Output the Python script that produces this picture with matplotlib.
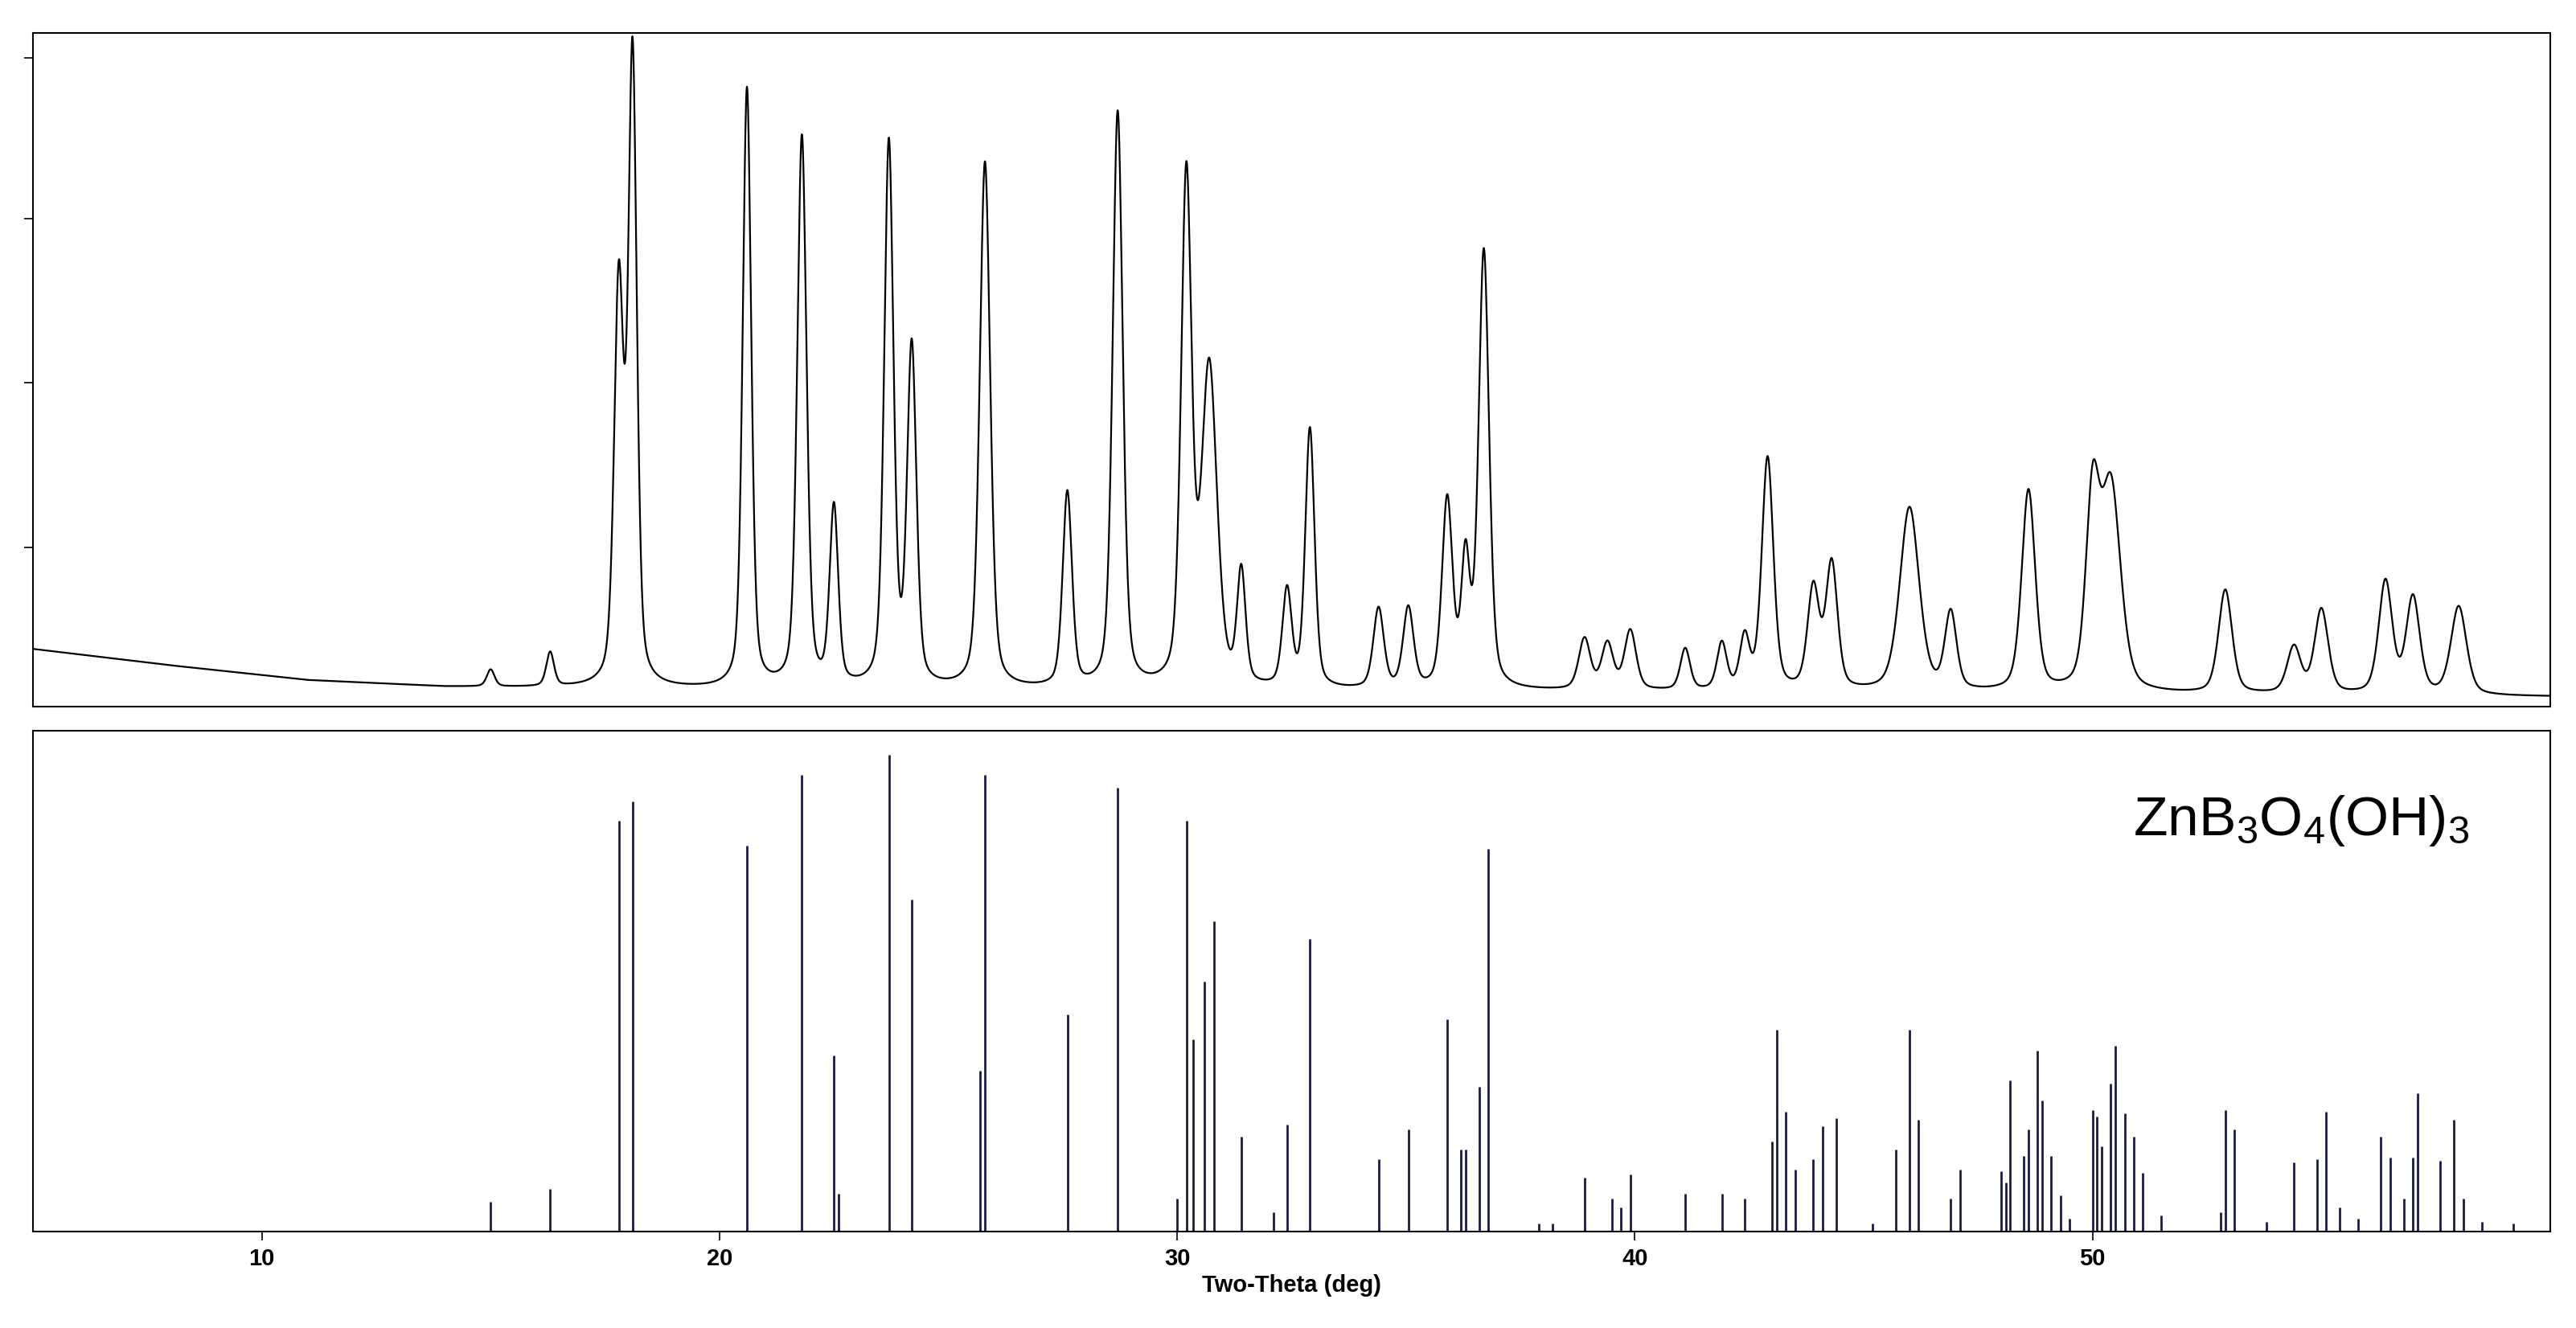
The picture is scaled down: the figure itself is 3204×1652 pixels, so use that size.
import numpy as np
import matplotlib
matplotlib.use("Agg")
import matplotlib.pyplot as plt

plt.rcParams['font.family'] = ['Liberation Sans', 'DejaVu Sans']
plt.rcParams['mathtext.fontset'] = 'custom'
plt.rcParams['mathtext.rm'] = 'Liberation Sans'
plt.rcParams['mathtext.it'] = 'Liberation Sans'

# Measured pattern: peak positions (2theta) and peak-top levels (arb. units)
peak_pos = [15.0, 16.3, 17.8, 18.1, 20.6, 21.8, 22.5, 23.7, 24.2, 25.8, 27.6, 28.7,
            30.2, 30.7, 31.4, 32.4, 32.9, 34.4, 35.05, 35.9, 36.3, 36.7, 38.9, 39.4,
            39.9, 41.1, 41.9, 42.4, 42.9, 43.9, 44.3, 46.0, 46.9, 48.6, 50.0, 50.4,
            52.9, 54.4, 55.0, 56.4, 57.0, 58.0]
peak_top = [22, 32, 252, 392, 375, 345, 118, 340, 215, 330, 128, 360,
            318, 202, 78, 68, 167, 58, 58, 123, 85, 275, 40, 37,
            45, 34, 37, 40, 150, 70, 85, 120, 55, 130, 120, 132,
            70, 35, 58, 75, 65, 60]
peak_fwhm = [0.2, 0.2, 0.24, 0.22, 0.22, 0.24, 0.22, 0.24, 0.24, 0.27, 0.24, 0.26,
             0.27, 0.4, 0.22, 0.24, 0.24, 0.27, 0.27, 0.27, 0.22, 0.27, 0.3, 0.3,
             0.3, 0.25, 0.25, 0.25, 0.3, 0.3, 0.3, 0.5, 0.3, 0.35, 0.35, 0.5,
             0.35, 0.35, 0.35, 0.35, 0.35, 0.4]
bg_x = [5, 8, 11, 14, 20, 40, 60]
bg_y = [35, 25, 16, 12, 10, 9, 6]

# Reference stick pattern
ref_pos = [15.0, 16.3, 17.8, 18.1, 20.6, 21.8, 22.5, 22.6, 23.7, 24.2, 25.7, 25.8,
           27.6, 28.7, 30.0, 30.2, 30.35, 30.6, 30.8, 31.4, 32.1, 32.4, 32.9, 34.4,
           35.05, 35.9, 36.2, 36.3, 36.6, 36.8, 38.9, 39.5, 39.7, 39.9, 41.1, 41.9,
           42.4, 43.0, 43.1, 43.3, 43.5, 43.9, 44.1, 44.4, 45.7, 46.0, 46.2, 46.9,
           47.1, 48.0, 48.1, 48.2, 48.5, 48.6, 48.8, 48.9, 49.1, 49.3, 50.0, 50.1,
           50.2, 50.4, 50.5, 50.7, 50.9, 51.1, 51.5, 52.8, 52.9, 53.1, 54.4, 54.9,
           55.1, 55.4, 56.3, 56.5, 56.8, 57.0, 57.1, 57.6, 57.9, 58.1,
           37.9, 38.2, 45.2, 49.5, 53.8, 55.8, 58.5, 59.2]
ref_int = [18, 26, 250, 262, 235, 278, 107, 23, 290, 202, 98, 278,
           132, 270, 20, 250, 117, 152, 189, 58, 12, 65, 178, 44,
           62, 129, 50, 50, 88, 233, 33, 20, 15, 35, 23, 23,
           20, 55, 123, 73, 38, 44, 64, 69, 50, 123, 68, 20,
           38, 37, 30, 92, 46, 62, 110, 80, 46, 22, 74, 70,
           52, 90, 113, 72, 58, 36, 10, 12, 74, 62, 42, 44,
           73, 15, 58, 45, 20, 45, 84, 43, 68, 20,
           5, 5, 5, 8, 6, 8, 6, 5]

x = np.linspace(5, 60, 8000)
bg = np.interp(x, bg_x, bg_y)
y = bg.copy()
for p, t, w in zip(peak_pos, peak_top, peak_fwhm):
    amp = t - np.interp(p, bg_x, bg_y)
    g = np.exp(-4 * np.log(2) * ((x - p) / w) ** 2)
    l = 1 / (1 + 4 * ((x - p) / w) ** 2)
    y += amp * (0.6 * g + 0.4 * l)

fig = plt.figure(figsize=(32.04, 16.52), dpi=100)
ax1 = fig.add_axes([0.0128, 0.468, 0.9772, 0.507])
ax2 = fig.add_axes([0.0128, 0.0725, 0.9772, 0.3775])

ax1.plot(x, y, color='black', lw=1.6)
ax1.set_xlim(5, 60)
ax1.set_ylim(0, 410)
ax1.set_xticks([])
ax1.set_yticks([97, 197, 297, 395])
ax1.set_yticklabels([])
ax1.tick_params(axis='y', length=8, width=1.2, direction='out')

ax2.vlines(ref_pos, 0, ref_int, colors='#1a1a4a', lw=2)
ax2.set_xlim(5, 60)
ax2.set_ylim(0, 305)
ax2.set_yticks([])
ax2.set_xticks([10, 20, 30, 40, 50])
ax2.tick_params(axis='x', length=8, width=1.2, labelsize=21, pad=6)
for lb in ax2.get_xticklabels():
    lb.set_fontweight('bold')
ax2.set_xlabel('Two-Theta (deg)', fontsize=21, fontweight='bold', labelpad=4)
ax2.text(0.968, 0.82, 'ZnB$_{\\mathregular{3}}$O$_{\\mathregular{4}}$(OH)$_{\\mathregular{3}}$',
         transform=ax2.transAxes, ha='right', va='center', fontsize=50)

for ax in (ax1, ax2):
    for s in ax.spines.values():
        s.set_linewidth(1.5)

fig.savefig('out.png', dpi=100)
